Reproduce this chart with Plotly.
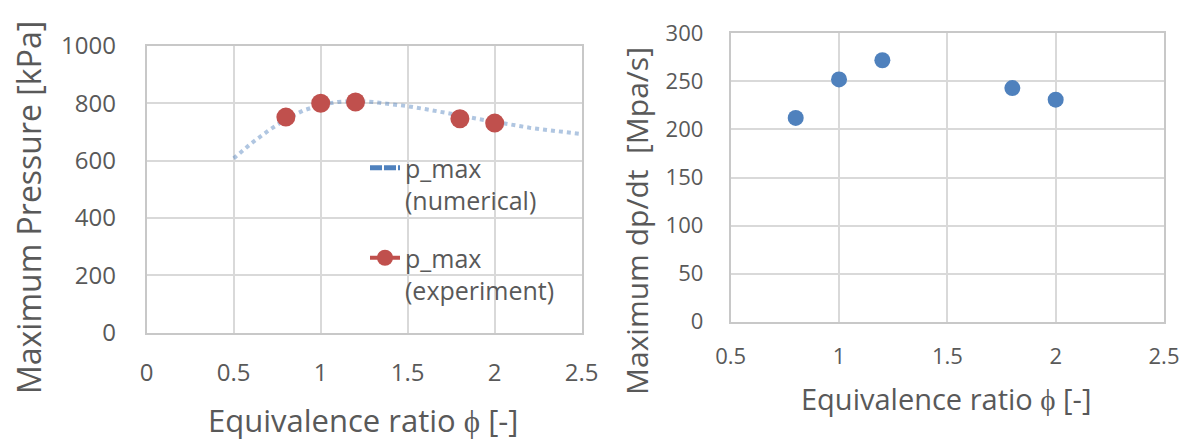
import plotly.graph_objects as go

# ---------------- data ----------------
phi_num = [0.5, 0.6, 0.7, 0.8, 0.9, 1.0, 1.1, 1.2, 1.3, 1.4, 1.5, 1.6, 1.7, 1.8, 1.9, 2.0, 2.1, 2.2, 2.3, 2.4, 2.5]
p_num = [608, 660, 705, 745, 775, 795, 805, 808, 805, 798, 790, 780, 770, 758, 746, 735, 725, 715, 707, 700, 693]

phi_exp = [0.8, 1.0, 1.2, 1.8, 2.0]
p_exp = [752, 800, 805, 746, 731]

phi_dpdt = [0.8, 1.0, 1.2, 1.8, 2.0]
dpdt = [212, 252, 272, 243, 231]

left_xticks = [0, 0.5, 1, 1.5, 2, 2.5]
left_yticks = [0, 200, 400, 600, 800, 1000]
right_xticks = [0.5, 1, 1.5, 2, 2.5]
right_yticks = [0, 50, 100, 150, 200, 250, 300]

# ---------------- style ----------------
FONT = "Open Sans"
TXT = "#595959"
GRID = "#d9d9d9"
BORDER = "#c8c8c8"
BLUE = "#4f81bd"
RED = "#c0504d"
W, H = 1189, 441

fig = go.Figure()

fig.add_trace(go.Scatter(x=phi_num, y=p_num, mode="lines",
                         line=dict(color="rgba(79,129,189,0.45)", width=4, dash="dot"),
                         showlegend=False, xaxis="x", yaxis="y"))
fig.add_trace(go.Scatter(x=phi_exp, y=p_exp, mode="markers",
                         marker=dict(color=RED, size=19),
                         showlegend=False, xaxis="x", yaxis="y"))
fig.add_trace(go.Scatter(x=[None], y=[None], mode="lines", legendgroup="a",
                         line=dict(color=BLUE, width=5, dash="12px,2px"),
                         name="p_max<br>(numerical)", xaxis="x", yaxis="y"))
fig.add_trace(go.Scatter(x=[None], y=[None], mode="lines+markers", legendgroup="b",
                         line=dict(color=RED, width=4),
                         marker=dict(color=RED, size=18),
                         name="p_max<br>(experiment)", xaxis="x", yaxis="y"))
fig.add_trace(go.Scatter(x=phi_dpdt, y=dpdt, mode="markers",
                         marker=dict(color=BLUE, size=16),
                         showlegend=False, xaxis="x2", yaxis="y2"))

axis_common = dict(showgrid=True, gridcolor=GRID, gridwidth=2, automargin=False,
                   showline=True, linecolor=BORDER, linewidth=2, mirror=True,
                   zeroline=False, ticks="outside", tickcolor="rgba(0,0,0,0)")

LT = dict(family=FONT, size=24, color=TXT)
RT = dict(family=FONT, size=22, color=TXT)

fig.update_layout(
    template="none",
    width=W, height=H,
    margin=dict(l=0, r=0, t=0, b=0, autoexpand=False),
    paper_bgcolor="white", plot_bgcolor="white",
    font=dict(family=FONT, color=TXT),
    xaxis=dict(domain=[146.7 / W, 581.7 / W], range=[0, 2.5],
               tickvals=left_xticks, ticktext=[str(v) for v in left_xticks],
               ticklen=17, anchor="y", tickfont=LT, **axis_common),
    yaxis=dict(domain=[(H - 332.7) / H, (H - 46) / H], range=[0, 1000],
               tickvals=left_yticks, ticklen=24, anchor="x", tickfont=LT, **axis_common),
    xaxis2=dict(domain=[730.7 / W, 1164 / W], range=[0.5, 2.5],
                tickvals=right_xticks, ticktext=[str(v) for v in right_xticks],
                ticklen=14, anchor="y2", tickfont=RT, **axis_common),
    yaxis2=dict(domain=[(H - 321.7) / H, (H - 33.3) / H], range=[0, 300],
                tickvals=right_yticks, ticklen=21, anchor="x2", tickfont=RT, **axis_common),
    legend=dict(x=365 / W, y=(H - 145) / H, xanchor="left", yanchor="top",
                bgcolor="rgba(0,0,0,0)", valign="top", tracegroupgap=22,
                font=dict(family=FONT, size=25, color=TXT), itemwidth=30),
    annotations=[
        dict(text="Equivalence ratio ϕ [-]", x=363 / W, y=(H - 420) / H,
             xref="paper", yref="paper", showarrow=False,
             xanchor="center", yanchor="middle", borderpad=0,
             font=dict(family=FONT, size=31, color=TXT)),
        dict(text="Equivalence ratio ϕ [-]", x=946 / W, y=(H - 398) / H,
             xref="paper", yref="paper", showarrow=False,
             xanchor="center", yanchor="middle",
             font=dict(family=FONT, size=29, color=TXT)),
        dict(text="Maximum Pressure [kPa]", x=28 / W, y=(H - 208) / H,
             xref="paper", yref="paper", showarrow=False, textangle=-90,
             xanchor="center", yanchor="middle",
             font=dict(family=FONT, size=32, color=TXT)),
        dict(text="Maximum dp/dt  [Mpa/s]", x=637 / W, y=(H - 221) / H,
             xref="paper", yref="paper", showarrow=False, textangle=-90,
             xanchor="center", yanchor="middle",
             font=dict(family=FONT, size=30, color=TXT)),
    ],
)

fig.write_html("out.html")
